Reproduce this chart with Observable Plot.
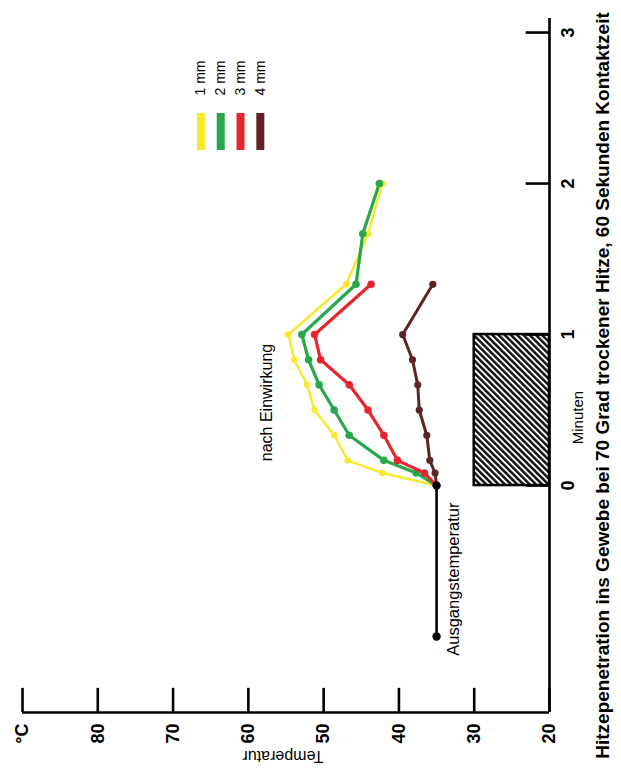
<!DOCTYPE html>
<html>
<head>
<meta charset="utf-8">
<script src="https://cdn.jsdelivr.net/npm/d3@7"></script>
<script src="https://cdn.jsdelivr.net/npm/@observablehq/plot@0.6"></script>
<style>
  html, body { margin: 0; padding: 0; background: #fff; }
  #chart svg { display: block; }
</style>
</head>
<body>
<div id="chart"></div>
<script>
// ---- data ----
const times = [0, 0.083, 0.167, 0.333, 0.5, 0.667, 0.833, 1.0, 1.333, 1.667, 2.0]; // minutes
const temp1mm = [35, 42.2, 46.8, 48.6, 51.2, 52.2, 53.9, 54.7, 47.0, 44.1, 42.2];
const temp2mm = [35, 37.7, 42.0, 46.6, 48.6, 50.6, 52.0, 52.9, 45.7, 44.8, 42.6];
const temp3mm = [35, 36.6, 40.2, 42.0, 44.1, 46.6, 50.4, 51.2, 43.7];
const temp4mm = [35, 35.2, 35.9, 36.3, 37.3, 37.5, 38.2, 39.5, 35.5];
const seriesLabels = ["1 mm", "2 mm", "3 mm", "4 mm"];
const seriesColors = ["#f7e92a", "#28a84a", "#e8242f", "#5e2323"];
const startTimes = [-1, 0];
const startTemps = [35, 35];
const heatTime = [0, 1];      // contact period (minutes)
const heatBand = [20, 30];    // band drawn for the contact period
const tempTicks = [90, 80, 70, 60, 50, 40, 30, 20];
const tempTickLabels = ["°C", "80", "70", "60", "50", "40", "30", "20"];
const minuteTicks = [0, 1, 2, 3];
const minuteTickLabels = ["0", "1", "2", "3"];
const title = "Hitzepenetration ins Gewebe bei 70 Grad trockener Hitze, 60 Sekunden Kontaktzeit";

// ---- build tables ----
const seriesValues = [temp1mm, temp2mm, temp3mm, temp4mm];
const rows = seriesValues.map((vals, s) =>
  vals.map((v, i) => ({series: seriesLabels[s], time: times[i], temp: v})));
const startRows = startTimes.map((t, i) => ({time: t, temp: startTemps[i]}));
const legendRows = seriesLabels.map((l, i) => ({series: l, color: seriesColors[i], i}));

const FONT = "'Liberation Sans', Arial, Helvetica, sans-serif";
const yAxisPos = -1.503;
const lineWidths = [2.4, 3.2, 3.2, 3];
const dotR = [3.2, 3.8, 3.8, 3.6];

const marks = [
  // hatched contact period
  Plot.rect([0], {x1: heatBand[1], x2: heatBand[0], y1: heatTime[0], y2: heatTime[1],
    fill: "url(#hatch)", stroke: "#000", strokeWidth: 2.5}),
  // axes lines
  Plot.ruleY([yAxisPos], {x1: tempTicks[0], x2: tempTicks[tempTicks.length - 1], stroke: "#000", strokeWidth: 2.6}),
  Plot.ruleX([20], {y1: yAxisPos, y2: 3.093, stroke: "#000", strokeWidth: 2.6}),
  Plot.ruleX(tempTicks, {y1: yAxisPos, y2: yAxisPos + 0.16, stroke: "#000", strokeWidth: 2.6}),
  Plot.ruleY(minuteTicks, {x1: 20, x2: 23.1, stroke: "#000", strokeWidth: 2.6}),
  // tick labels
  Plot.text(tempTicks, {x: d => d, y: yAxisPos, text: (d, i) => tempTickLabels[i], rotate: -90,
    textAnchor: "end", lineAnchor: "middle", dy: 11, fontSize: 18, fontWeight: "bold", fill: "#000"}),
  Plot.text(minuteTicks, {x: 20, y: d => d, text: (d, i) => minuteTickLabels[i], rotate: -90,
    textAnchor: "middle", lineAnchor: "middle", dx: 19, fontSize: 18, fontWeight: "bold", fill: "#000"}),
  // axis titles
  Plot.text(["Temperatur"], {frameAnchor: "bottom", rotate: 180, dy: 44, dx: -3,
    textAnchor: "middle", lineAnchor: "middle", fontSize: 16, fill: "#000"}),
  Plot.text(["Minuten"], {x: 20, y: 0.45, rotate: -90, dx: 29, textAnchor: "middle",
    lineAnchor: "middle", fontSize: 15, fill: "#000"}),
  Plot.text([title], {frameAnchor: "right", rotate: -90, dx: 53, dy: 20, textAnchor: "middle",
    lineAnchor: "middle", fontSize: 19, fontWeight: "bold", fill: "#000"}),
  // annotations
  Plot.text(["nach Einwirkung"], {x: 57.6, y: 0.55, rotate: -90, textAnchor: "middle",
    lineAnchor: "middle", fontSize: 16, fill: "#000"}),
  Plot.text(["Ausgangstemperatur"], {x: 32.7, y: -0.62, rotate: -90, textAnchor: "middle",
    lineAnchor: "middle", fontSize: 16.5, fill: "#000"}),
  // start temperature
  Plot.line(startRows, {x: "temp", y: "time", stroke: "#000", strokeWidth: 2.6}),
];
rows.forEach((r, s) => {
  marks.push(Plot.line(r, {x: "temp", y: "time", stroke: seriesColors[s], strokeWidth: lineWidths[s],
    strokeLinejoin: "round"}));
  marks.push(Plot.dot(r.slice(1), {x: "temp", y: "time", r: dotR[s], fill: seriesColors[s], stroke: "none"}));
});
marks.push(Plot.dot(startRows, {x: "temp", y: "time", r: 4.2, fill: "#000"}));
// legend
marks.push(Plot.ruleX(legendRows, {x: d => 66.3 - d.i * 2.63, y1: 2.219, y2: 2.464,
  stroke: d => d.color, strokeWidth: 8}));
marks.push(Plot.text(legendRows, {x: d => 66.3 - d.i * 2.63, y: 2.583, text: "series", rotate: -90,
  textAnchor: "start", lineAnchor: "middle", fontSize: 14, fill: "#000"}));

const svg = Plot.plot({
  width: 621,
  height: 775,
  marginLeft: 22,
  marginRight: 72,
  marginTop: 18,
  marginBottom: 63,
  style: {fontFamily: FONT, background: "#fff", overflow: "visible"},
  x: {domain: [90, 20], range: [22, 549], axis: null},
  y: {domain: [-1.503, 3.093], range: [712, 18], axis: null},
  marks
});

// hatch pattern definition
const NS = "http://www.w3.org/2000/svg";
const defs = document.createElementNS(NS, "defs");
const pat = document.createElementNS(NS, "pattern");
pat.setAttribute("id", "hatch");
pat.setAttribute("patternUnits", "userSpaceOnUse");
pat.setAttribute("width", "4.4");
pat.setAttribute("height", "4.4");
pat.setAttribute("patternTransform", "rotate(-45)");
const bg = document.createElementNS(NS, "rect");
bg.setAttribute("width", "4.4"); bg.setAttribute("height", "4.4"); bg.setAttribute("fill", "#fff");
const st = document.createElementNS(NS, "rect");
st.setAttribute("width", "2.5"); st.setAttribute("height", "4.4"); st.setAttribute("fill", "#111");
pat.appendChild(bg); pat.appendChild(st);
defs.appendChild(pat);
svg.insertBefore(defs, svg.firstChild);

document.getElementById("chart").appendChild(svg);
</script>
</body>
</html>
